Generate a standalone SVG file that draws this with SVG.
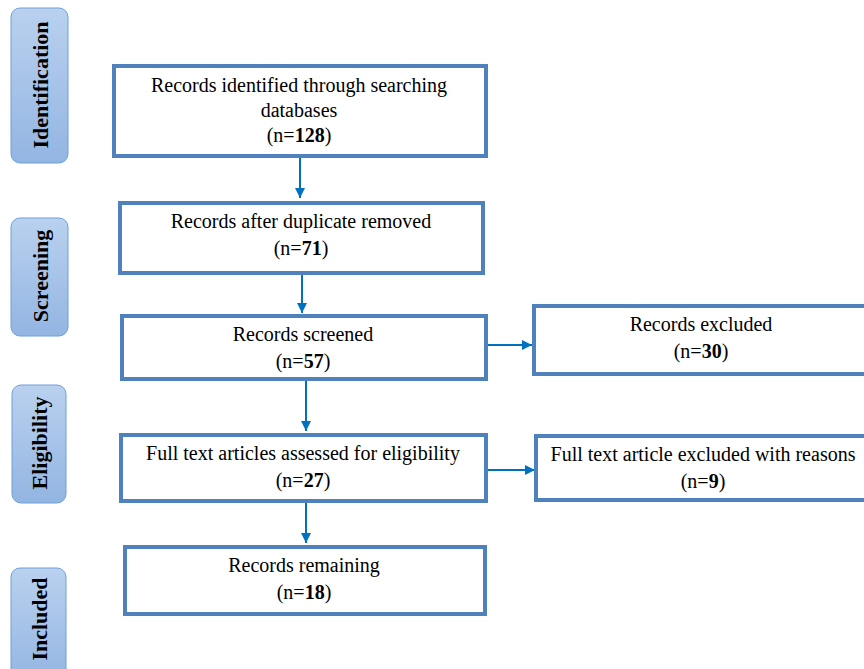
<svg xmlns="http://www.w3.org/2000/svg" width="864" height="669" viewBox="0 0 864 669">
<defs>
<linearGradient id="sideGrad" x1="0" y1="0" x2="0" y2="1">
<stop offset="0" stop-color="#bad1ef"/>
<stop offset="1" stop-color="#93b5e2"/>
</linearGradient>
<marker id="arr" viewBox="0 0 10 10" refX="10" refY="5" markerWidth="10" markerHeight="10" markerUnits="userSpaceOnUse" orient="auto">
<path d="M0,0 L10,5 L0,10 Z" fill="#0070c0"/>
</marker>
</defs>
<style>
.box{fill:#ffffff;stroke:#4f81bd;stroke-width:4}
.side{fill:url(#sideGrad);stroke:#6f9fd8;stroke-width:1}
.t{font-family:"Liberation Serif","Times New Roman",serif;font-size:20px;fill:#000;text-anchor:middle}
.st{font-family:"Liberation Serif","Times New Roman",serif;font-size:22px;font-weight:bold;fill:#000;text-anchor:middle}
.b{font-weight:bold}
.c{stroke:#0070c0;stroke-width:2;fill:none;marker-end:url(#arr)}
</style>
<rect width="864" height="669" fill="#ffffff"/>

<g id="side-identification">
<rect class="side" x="11" y="8" width="57" height="155" rx="9"/>
<text class="st" transform="translate(48,85) rotate(-90)">Identification</text>
</g>
<g id="side-screening">
<rect class="side" x="11" y="218" width="57" height="118" rx="9"/>
<text class="st" transform="translate(48,276) rotate(-90)">Screening</text>
</g>
<g id="side-eligibility">
<rect class="side" x="12" y="385" width="54" height="118" rx="9"/>
<text class="st" transform="translate(47,443) rotate(-90)">Eligibility</text>
</g>
<g id="side-included">
<rect class="side" x="11" y="568" width="55" height="115" rx="9"/>
<text class="st" transform="translate(47,619) rotate(-90)">Included</text>
</g>

<g id="connectors">
<line class="c" x1="300" y1="156" x2="300" y2="198"/>
<line class="c" x1="302" y1="273" x2="302" y2="313"/>
<line class="c" x1="306" y1="379" x2="306" y2="431"/>
<line class="c" x1="306" y1="501" x2="306" y2="543"/>
<line class="c" x1="486" y1="345" x2="532" y2="345"/>
<line class="c" x1="486" y1="470" x2="535" y2="470"/>
</g>

<g id="n1">
<rect class="box" x="114" y="66" width="372" height="90"/>
<text class="t" x="299" y="92">Records identified through searching</text>
<text class="t" x="299" y="117">databases</text>
<text class="t" x="299" y="142">(n=<tspan class="b">128</tspan>)</text>
</g>
<g id="n2">
<rect class="box" x="120" y="203" width="363" height="70"/>
<text class="t" x="301" y="228">Records after duplicate removed</text>
<text class="t" x="301" y="255">(n=<tspan class="b">71</tspan>)</text>
</g>
<g id="n3">
<rect class="box" x="122" y="316" width="364" height="63"/>
<text class="t" x="303" y="341">Records screened</text>
<text class="t" x="303" y="368">(n=<tspan class="b">57</tspan>)</text>
</g>
<g id="n4">
<rect class="box" x="121" y="435" width="365" height="66"/>
<text class="t" x="303" y="460">Full text articles assessed for eligibility</text>
<text class="t" x="303" y="487">(n=<tspan class="b">27</tspan>)</text>
</g>
<g id="n5">
<rect class="box" x="125" y="547" width="360" height="67"/>
<text class="t" x="304" y="572">Records remaining</text>
<text class="t" x="304" y="599">(n=<tspan class="b">18</tspan>)</text>
</g>
<g id="r1">
<rect class="box" x="534" y="306" width="340" height="68"/>
<text class="t" x="701" y="331">Records excluded</text>
<text class="t" x="701" y="358">(n=<tspan class="b">30</tspan>)</text>
</g>
<g id="r2">
<rect class="box" x="536" y="436" width="340" height="64"/>
<text class="t" x="703" y="461">Full text article excluded with reasons</text>
<text class="t" x="703" y="488">(n=<tspan class="b">9</tspan>)</text>
</g>
</svg>
